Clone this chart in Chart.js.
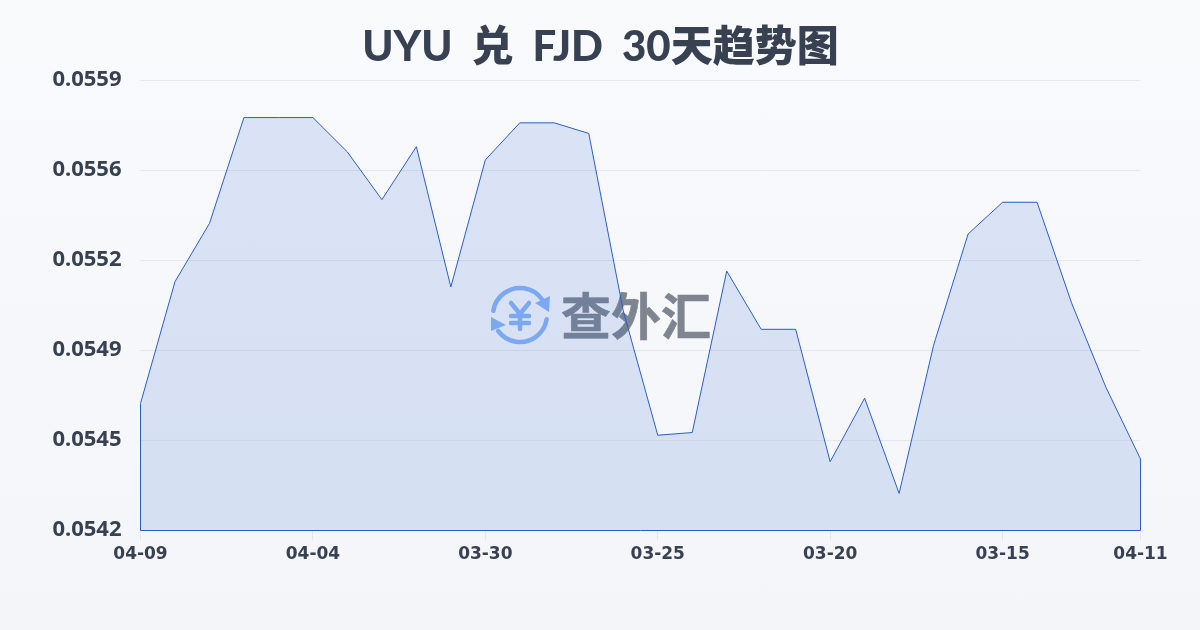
<!DOCTYPE html>
<html lang="zh">
<head>
<meta charset="utf-8">
<title>UYU 兑 FJD 30天趋势图</title>
<script src="https://cdn.jsdelivr.net/npm/chart.js@4/dist/chart.umd.min.js"></script>
<style>
    html, body { margin: 0; padding: 0; }
    body {
        width: 1200px;
        height: 630px;
        overflow: hidden;
        background: linear-gradient(180deg, #f8fafc 0%, #f3f5f8 100%);
    }
    #wrap { position: relative; width: 1200px; height: 630px; }
</style>
</head>
<body>
<div id="wrap"><canvas id="rateChart" width="1200" height="630"></canvas></div>
<script>
const titleText = 'UYU 兑 FJD 30天趋势图';
const watermarkText = '查外汇';
const dates = ['04-09', '04-08', '04-07', '04-06', '04-05', '04-04', '04-03', '04-02', '04-01', '03-31',
    '03-30', '03-29', '03-28', '03-27', '03-26', '03-25', '03-24', '03-23', '03-22', '03-21',
    '03-20', '03-19', '03-18', '03-17', '03-16', '03-15', '03-14', '03-13', '03-12', '04-11'];
const rates = [0.05468, 0.05514, 0.05536, 0.05576, 0.05576, 0.05576, 0.05563, 0.05545, 0.05565, 0.05512,
    0.05560, 0.05574, 0.05574, 0.05570, 0.05503, 0.05456, 0.05457, 0.05518, 0.05496, 0.05496,
    0.05446, 0.05470, 0.05434, 0.05490, 0.05532, 0.05544, 0.05544, 0.05506, 0.05474, 0.05447];
const xTickIndexes = [0, 5, 10, 15, 20, 25, 29];
const yTicks = [0.0542, 0.05454, 0.05488, 0.05522, 0.05556, 0.0559];

const tickColor = '#374151';
const lineColor = '#2a5fc4';

// title spaces are wider than the font's own, and the y labels need room left of the padding
const layoutFix = {
    id: 'layoutFix',
    afterLayout(chart) {
        chart.scales.y.left = 0;
    },
    beforeDraw(chart) {
        chart.ctx.wordSpacing = '9px';
    }
};

// watermark sits under the line, logo is fixed to the canvas not the data
const watermark = {
    id: 'watermark',
    beforeDatasetsDraw(chart) {
        const c = chart.ctx;
        c.save();
        c.strokeStyle = '#8ab4f8';
        c.fillStyle = '#8ab4f8';
        c.lineWidth = 4.5;
        c.lineCap = 'round';
        c.lineJoin = 'round';

        c.beginPath();
        c.arc(520, 315, 27, Math.PI * 1.05, Math.PI * 1.8);
        c.stroke();
        c.beginPath();
        c.moveTo(549, 312); c.lineTo(550, 296); c.lineTo(535, 303);
        c.closePath();
        c.fill();

        c.beginPath();
        c.arc(520, 315, 27, Math.PI * 0.05, Math.PI * 0.8);
        c.stroke();
        c.beginPath();
        c.moveTo(491, 317); c.lineTo(491, 331); c.lineTo(506, 325);
        c.closePath();
        c.fill();

        c.beginPath();
        c.moveTo(511, 303); c.lineTo(520, 314); c.lineTo(529, 303);
        c.moveTo(520, 314); c.lineTo(520, 329);
        c.moveTo(511, 316); c.lineTo(529, 316);
        c.moveTo(511, 323); c.lineTo(529, 323);
        c.stroke();

        c.fillStyle = '#7f8590';
        c.strokeStyle = '#7f8590';
        c.lineWidth = 0.6;
        c.font = 'bold 50px "Noto Sans CJK SC"';
        c.textAlign = 'left';
        c.textBaseline = 'middle';
        c.fillText(watermarkText, 561, 316);
        c.strokeText(watermarkText, 561, 316);
        c.restore();
    }
};

// the outline also runs down the sides and along the base
const baseOutline = {
    id: 'baseOutline',
    afterDatasetsDraw(chart) {
        const x = chart.scales.x;
        const y = chart.scales.y;
        const last = rates.length - 1;
        const c = chart.ctx;
        c.save();
        c.strokeStyle = lineColor;
        c.lineWidth = 1;
        c.beginPath();
        c.moveTo(x.getPixelForValue(0), y.getPixelForValue(rates[0]));
        c.lineTo(x.getPixelForValue(0), y.bottom);
        c.lineTo(x.getPixelForValue(last), y.bottom);
        c.lineTo(x.getPixelForValue(last), y.getPixelForValue(rates[last]));
        c.stroke();
        c.restore();
    }
};

function initChart() {
    const ctx = document.getElementById('rateChart').getContext('2d');
    new Chart(ctx, {
        type: 'line',
        data: {
            labels: dates,
            datasets: [{
                data: rates,
                borderColor: lineColor,
                borderWidth: 1,
                pointRadius: 0,
                tension: 0,
                fill: true,
                backgroundColor: 'rgba(45, 100, 210, 0.15)'
            }]
        },
        options: {
            responsive: false,
            animation: false,
            layout: { padding: { left: 60.5, right: 59.5, top: 0, bottom: 0 } },
            plugins: {
                legend: { display: false },
                tooltip: { enabled: false },
                title: {
                    display: true,
                    text: titleText,
                    color: '#374151',
                    font: { family: 'Lato, "Noto Sans CJK SC"', size: 42, weight: '900', lineHeight: 1.2 },
                    padding: { top: 22, bottom: 8.1 }
                }
            },
            scales: {
                x: {
                    type: 'category',
                    border: { display: false },
                    grid: { drawOnChartArea: false, tickLength: 10, color: '#e5e7eb' },
                    afterBuildTicks(scale) {
                        scale.ticks = scale.ticks.filter(t => xTickIndexes.includes(t.value));
                    },
                    afterFit(scale) { scale.height = 99.5; },
                    ticks: {
                        autoSkip: false,
                        maxRotation: 0,
                        color: tickColor,
                        font: { family: '"DejaVu Sans"', size: 17, weight: 'bold' },
                        padding: 4
                    }
                },
                y: {
                    min: 0.0542,
                    max: 0.0559,
                    border: { display: false },
                    grid: { color: '#e5e7eb', tickLength: 0 },
                    afterBuildTicks(scale) {
                        scale.ticks = yTicks.map(v => ({ value: v }));
                    },
                    afterFit(scale) { scale.width = 80; },
                    ticks: {
                        color: tickColor,
                        font: { family: '"Noto Sans"', size: 22, weight: 'bold' },
                        padding: 19,
                        labelOffset: -1,
                        callback: v => v.toFixed(4)
                    }
                }
            }
        },
        plugins: [layoutFix, watermark, baseOutline]
    });
}

document.addEventListener('DOMContentLoaded', initChart);
</script>
</body>
</html>
